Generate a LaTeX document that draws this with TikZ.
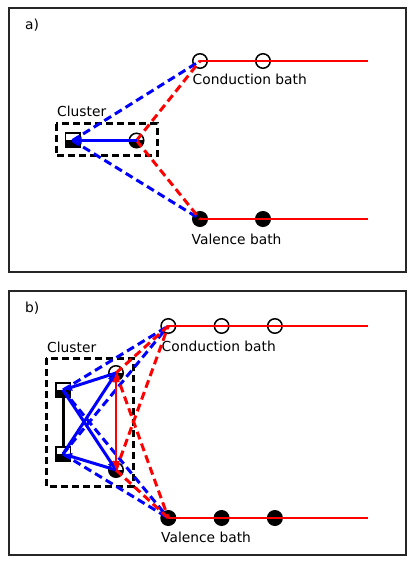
\documentclass[tikz,border=0pt]{standalone}
\usepackage{fontspec}
\setmainfont{DejaVu Sans}
\usetikzlibrary{arrows.meta,positioning}

\begin{document}
\begin{tikzpicture} [
        x=1pt, y=-1pt,
        >={Latex[length=9pt,width=8pt]},
        font=\fontsize{13.8}{16}\selectfont,
        panel/.style={draw=black!85, line width=1.6pt},
        lbl/.style={inner sep=0pt, anchor=base west},
        empty/.style={draw, circle, line width=1.5pt, minimum size=14.5pt, inner sep=0pt},
        full/.style={empty, fill=black},
        half/.style={empty, path picture={\fill (path picture bounding box.west) rectangle (path picture bounding box.south east);}},
        site/.style={draw, rectangle, line width=1.5pt, minimum size=14.5pt, inner sep=0pt,
            path picture={\fill (path picture bounding box.west) rectangle (path picture bounding box.south east);}},
        bath/.style={red, line width=2.5pt},
        hop/.style={blue, line width=3pt},
        tunnel/.style={line width=3pt, dash pattern=on 8pt off 4.5pt},
        clusterbox/.style={draw, line width=3pt, dash pattern=on 7pt off 4pt} ]
    \useasboundingbox (0,0) rectangle (415,564);

    % a) one site
    \draw[panel] (9,8) rectangle (406,272);
    \node[lbl] (tagA) at (25,30) {a)};
    \node[empty] (ca1) at (200,61) {};
    \node[empty, right=47pt of ca1] (ca2) {};
    \node[full, below=142pt of ca1] (va1) {};
    \node[full, right=47pt of va1] (va2) {};
    \node[site] (sa) at (72.5,140.5) {};
    \node[half] (ea) at (136.5,140.5) {};
    \node[lbl] (cla) at (57,117) {Cluster};
    \node[lbl] (cba) at (192.5,85) {Conduction bath};
    \node[lbl] (vba) at (191.5,244) {Valence bath};
    \coordinate (caend) at (368,61);
    \coordinate (vaend) at (368,219);
    \draw[clusterbox] (56,124) rectangle (157,156);
    \draw[bath] (ca1.center) -- (caend);
    \draw[bath] (va1.center) -- (vaend);
    \draw[tunnel, blue] (sa.center) -- (ca1.center) (sa.center) -- (va1.center);
    \draw[tunnel, red] (ea.center) -- (ca1.center) (ea.center) -- (va1.center);
    \draw[hop, ->] (ea.center) -- (sa.center);

    % b) two sites
    \draw[panel] (9,291) rectangle (406,555);
    \node[lbl] (tagB) at (25,312) {b)};
    \node[empty] (cb1) at (168.3,326) {};
    \node[empty, right=37.3pt of cb1] (cb2) {};
    \node[empty, right=37.3pt of cb2] (cb3) {};
    \node[full, below=176pt of cb1] (vb1) {};
    \node[full, right=37.3pt of vb1] (vb2) {};
    \node[full, right=37.3pt of vb2] (vb3) {};
    \node[site] (sb1) at (63,390) {};
    \node[site] (sb2) at (63,454) {};
    \node[half] (eb1) at (116,373) {};
    \node[half] (eb2) at (116,470) {};
    \node[lbl] (clb) at (47,352) {Cluster};
    \node[lbl] (cbb) at (161.5,351) {Conduction bath};
    \node[lbl] (vbb) at (161,542) {Valence bath};
    \coordinate (cbend) at (368,326);
    \coordinate (vbend) at (368,518);
    \draw[clusterbox] (46,358) rectangle (133,486);
    \draw[bath] (cb1.center) -- (cbend);
    \draw[bath] (vb1.center) -- (vbend);
    \foreach \s in {sb1,sb2}
        \draw[tunnel, blue] (\s.center) -- (cb1.center) (\s.center) -- (vb1.center);
    \foreach \e in {eb1,eb2}
        \draw[tunnel, red] (\e.center) -- (cb1.center) (\e.center) -- (vb1.center);
    \draw[line width=3pt] (sb1.south) -- (sb2.north);
    \draw[hop, ->] (eb1.center) -- (sb1.center);
    \draw[hop, ->] (eb2.center) -- (sb2.center);
    \draw[hop, ->] (sb1.center) -- (eb2.center);
    \draw[hop, ->] (sb2.center) -- (eb1.center);
    \draw[bath, <->] (eb1.center) -- (eb2.center);
\end{tikzpicture}
\end{document}
